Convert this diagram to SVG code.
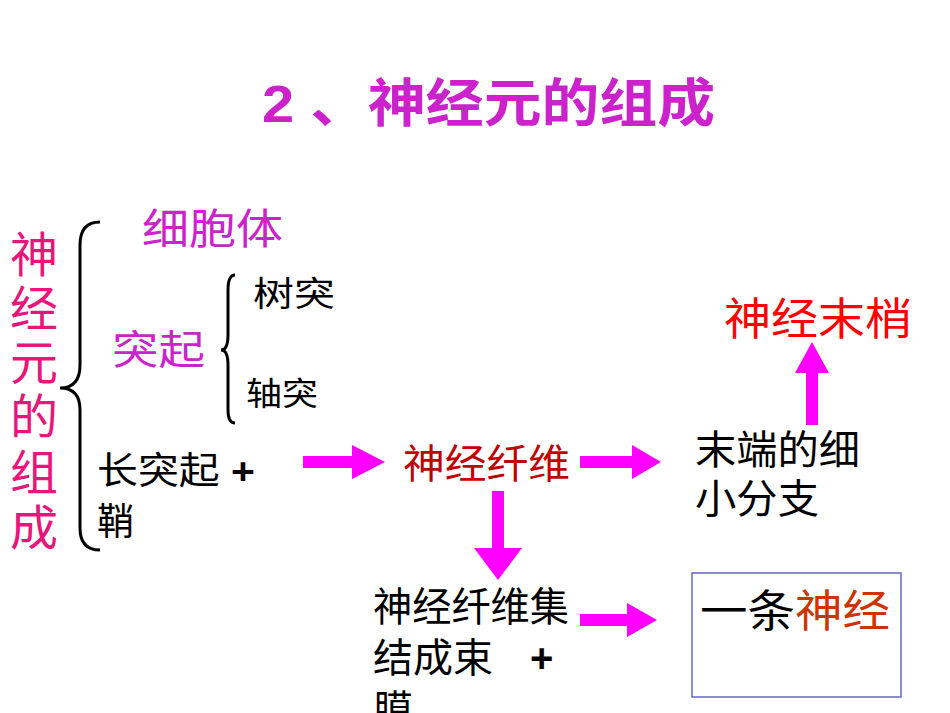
<svg xmlns="http://www.w3.org/2000/svg" width="950" height="713" viewBox="0 0 950 713">
<defs>
<style>
text{font-family:"Liberation Sans","Noto Sans CJK SC",sans-serif;}
.b{fill:#000}
.m{fill:#CC22CC}
.brace{fill:none;stroke:#000;stroke-width:3}
.arr{fill:#FF00FF}
</style>
</defs>
<rect width="950" height="713" fill="#fff"/>
<text x="262" y="122" font-size="52" font-weight="bold" class="m" textLength="453" lengthAdjust="spacingAndGlyphs">2 、神经元的组成</text>
<g id="root" fill="#E8157A" font-size="48">
<text x="10" y="272">神</text><text x="10" y="326">经</text><text x="10" y="380">元</text>
<text x="10" y="434">的</text><text x="10" y="490">组</text><text x="10" y="545">成</text>
</g>
<g id="braces">
<path class="brace" d="M100,222 Q80,222 80,245 L80,365 Q80,388 60,388 Q80,388 80,410 L80,528 Q80,550 100,550"/>
<path class="brace" d="M235,275 Q228,275 228,290 L228,335 Q228,350 221,350 Q228,350 228,365 L228,410 Q228,423 235,423"/>
</g>
<g id="n-cell"><text x="142" y="244" font-size="42" class="m" textLength="141" lengthAdjust="spacingAndGlyphs">细胞体</text></g>
<g id="n-tuqi"><text x="112" y="364" font-size="40" class="m" textLength="93" lengthAdjust="spacingAndGlyphs">突起</text></g>
<g id="n-shutu"><text x="253" y="306" font-size="34" class="b" textLength="82" lengthAdjust="spacingAndGlyphs">树突</text></g>
<g id="n-zhoutu"><text x="246" y="405" font-size="32" class="b" textLength="72" lengthAdjust="spacingAndGlyphs">轴突</text></g>
<g id="n-long" font-size="37" class="b"><text x="97" y="484" textLength="158" lengthAdjust="spacingAndGlyphs">长突起 <tspan font-weight="bold">+</tspan></text><text x="97" y="535">鞘</text></g>
<g id="n-fiber"><text x="403" y="478" font-size="40" fill="#C00000" textLength="167" lengthAdjust="spacingAndGlyphs">神经纤维</text></g>
<g id="n-branch" font-size="40" class="b"><text x="695" y="464" textLength="165" lengthAdjust="spacingAndGlyphs">末端的细</text><text x="695" y="513" textLength="124" lengthAdjust="spacingAndGlyphs">小分支</text></g>
<g id="n-ending"><text x="724" y="335" font-size="44" fill="#FF0000" textLength="188" lengthAdjust="spacingAndGlyphs">神经末梢</text></g>
<g id="n-bundle" font-size="40" class="b"><text x="373" y="621" textLength="196" lengthAdjust="spacingAndGlyphs">神经纤维集</text><text x="373" y="672">结成束 <tspan x="530" font-weight="bold">+</tspan></text><text x="373" y="724">膜</text></g>
<g id="n-nerve">
<rect x="692" y="573" width="209" height="124" fill="none" stroke="#6666CC" stroke-width="1.5"/>
<text x="700" y="627" font-size="44" class="b" textLength="190" lengthAdjust="spacingAndGlyphs">一条<tspan fill="#CC3300">神经</tspan></text>
</g>
<g id="connectors" class="arr">
<polygon points="303,456 352,456 352,445 385,462 352,479 352,468 303,468"/>
<polygon points="580,456 632,456 632,445 661,462 632,479 632,468 580,468"/>
<polygon points="806,425 806,373 795,373 812,342 829,373 818,373 818,425"/>
<polygon points="492,491 492,548 474,548 498,580 522,548 504,548 504,491"/>
<polygon points="580,614 627,614 627,603 657,620 627,637 627,626 580,626"/>
</g>
</svg>
